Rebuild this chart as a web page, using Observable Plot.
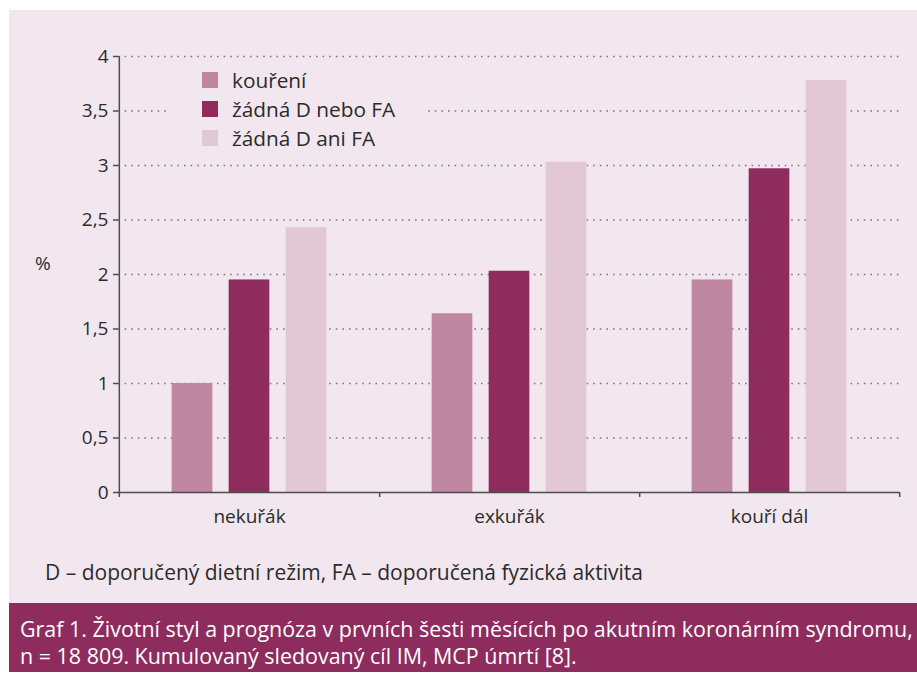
<!DOCTYPE html>
<html><head><meta charset="utf-8">
<script src="https://cdn.jsdelivr.net/npm/d3@7"></script>
<script src="https://cdn.jsdelivr.net/npm/@observablehq/plot@0.6"></script>
<style>
body{margin:0;background:#fff;font-family:"Open Sans",sans-serif;color:#2b2b2b;}
#wrap{position:relative;width:917px;height:675px;overflow:hidden;background:#fff;}
#panel{position:absolute;left:9px;top:10px;width:908px;height:593px;background:#f2e7ee;}
#chart{position:absolute;left:0;top:0;}
#legend{position:absolute;left:170px;top:62px;width:257px;height:93px;background:#f2e7ee;}
.row{position:absolute;left:0;height:30px;display:flex;align-items:center;font-size:20.8px;white-space:nowrap;}
.sw{width:16px;height:16px;margin-left:32px;margin-right:14px;}
#ylab{position:absolute;left:35px;top:251px;font-size:19px;line-height:24px;}
#note{position:absolute;left:45px;top:560px;font-size:21px;line-height:24px;white-space:nowrap;}
#cap{position:absolute;left:9px;top:603px;width:908px;height:69px;background:#8e2c5e;}
#captext{position:absolute;left:20px;top:615px;font-size:21.45px;line-height:27px;color:#fff;white-space:nowrap;}
</style></head>
<body>
<div id="wrap">
  <div id="panel"></div>
  <div id="chart"></div>
  <div id="legend"></div>
  <div id="ylab">%</div>
  <div id="note"></div>
  <div id="cap"></div>
  <div id="captext"></div>
</div>
<script>
const categories = ["nekuřák", "exkuřák", "kouří dál"];
const series = ["kouření", "žádná D nebo FA", "žádná D ani FA"];
const koureni = [1.0, 1.64, 1.95];
const zadnaNebo = [1.95, 2.03, 2.97];
const zadnaAni = [2.43, 3.03, 3.78];
const yTicks = [0, 0.5, 1, 1.5, 2, 2.5, 3, 3.5, 4];
const colors = ["#c087a3", "#8e2c5e", "#e2c8d5"];
const yLabel = "%";
const note = "D – doporučený dietní režim, FA – doporučená fyzická aktivita";
const caption = ["Graf 1. Životní styl a prognóza v prvních šesti měsících po akutním koronárním syndromu,",
                 "n = 18 809. Kumulovaný sledovaný cíl IM, MCP úmrtí [8]."];

const values = [koureni, zadnaNebo, zadnaAni];
const rows = categories.flatMap((c, i) => series.map((s, j) => ({category: c, series: s, value: values[j][i]})));

const W = 917, H = 540, mL = 118, mR = 18, mT = 56, mB = 48;
const bandW = (W - mL - mR) / categories.length;
const step = 57, barW = 41;
const inset = (bandW - barW) / 2;
const axisColor = "#4d4d4d";
const fmt = d => String(d).replace(".", ",");

const chart = Plot.plot({
  width: W, height: H,
  marginLeft: mL, marginRight: mR, marginTop: mT, marginBottom: mB,
  style: {background: "transparent", fontSize: "19px", fontFamily: "'Open Sans', sans-serif", color: "#2b2b2b"},
  x: {domain: categories, padding: 0, label: null},
  y: {domain: [0, 4], label: null},
  marks: [
    Plot.gridY(yTicks.filter(d => d > 0), {stroke: "#777", strokeOpacity: 1, strokeWidth: 1.4, strokeDasharray: "1.6,5"}),
    ...series.map((s, j) => Plot.barY(rows.filter(r => r.series === s), {
      x: "category", y: "value", fill: colors[j], dx: (j - 1) * step, insetLeft: inset, insetRight: inset
    })),
    Plot.ruleY([0], {stroke: axisColor, strokeWidth: 1.5}),
    Plot.ruleX([categories[0]], {dx: -bandW / 2, stroke: axisColor, strokeWidth: 1.5, insetBottom: -5}),
    Plot.ruleX(categories, {dx: bandW / 2, y1: 0, y2: 0, stroke: axisColor, strokeWidth: 1.5, insetBottom: -5}),
    Plot.axisY(yTicks, {tickSize: 5, tickPadding: 5, tickFormat: fmt, stroke: axisColor, strokeWidth: 1.5, fill: "#2b2b2b", fontSize: 19, label: null}),
    Plot.axisX({tickSize: 0, tickPadding: 17, fill: "#2b2b2b", fontSize: 19, label: null})
  ]
});
document.getElementById("chart").appendChild(chart);

const leg = document.getElementById("legend");
series.forEach((s, j) => {
  const r = document.createElement("div");
  r.className = "row";
  r.style.top = (3 + j * 29) + "px";
  const sw = document.createElement("div");
  sw.className = "sw"; sw.style.background = colors[j];
  const t = document.createElement("span"); t.textContent = s;
  r.appendChild(sw); r.appendChild(t); leg.appendChild(r);
});
document.getElementById("ylab").textContent = yLabel;
document.getElementById("note").textContent = note;
document.getElementById("captext").innerHTML = caption.map(l => `<div>${l}</div>`).join("");
</script>
</body></html>
